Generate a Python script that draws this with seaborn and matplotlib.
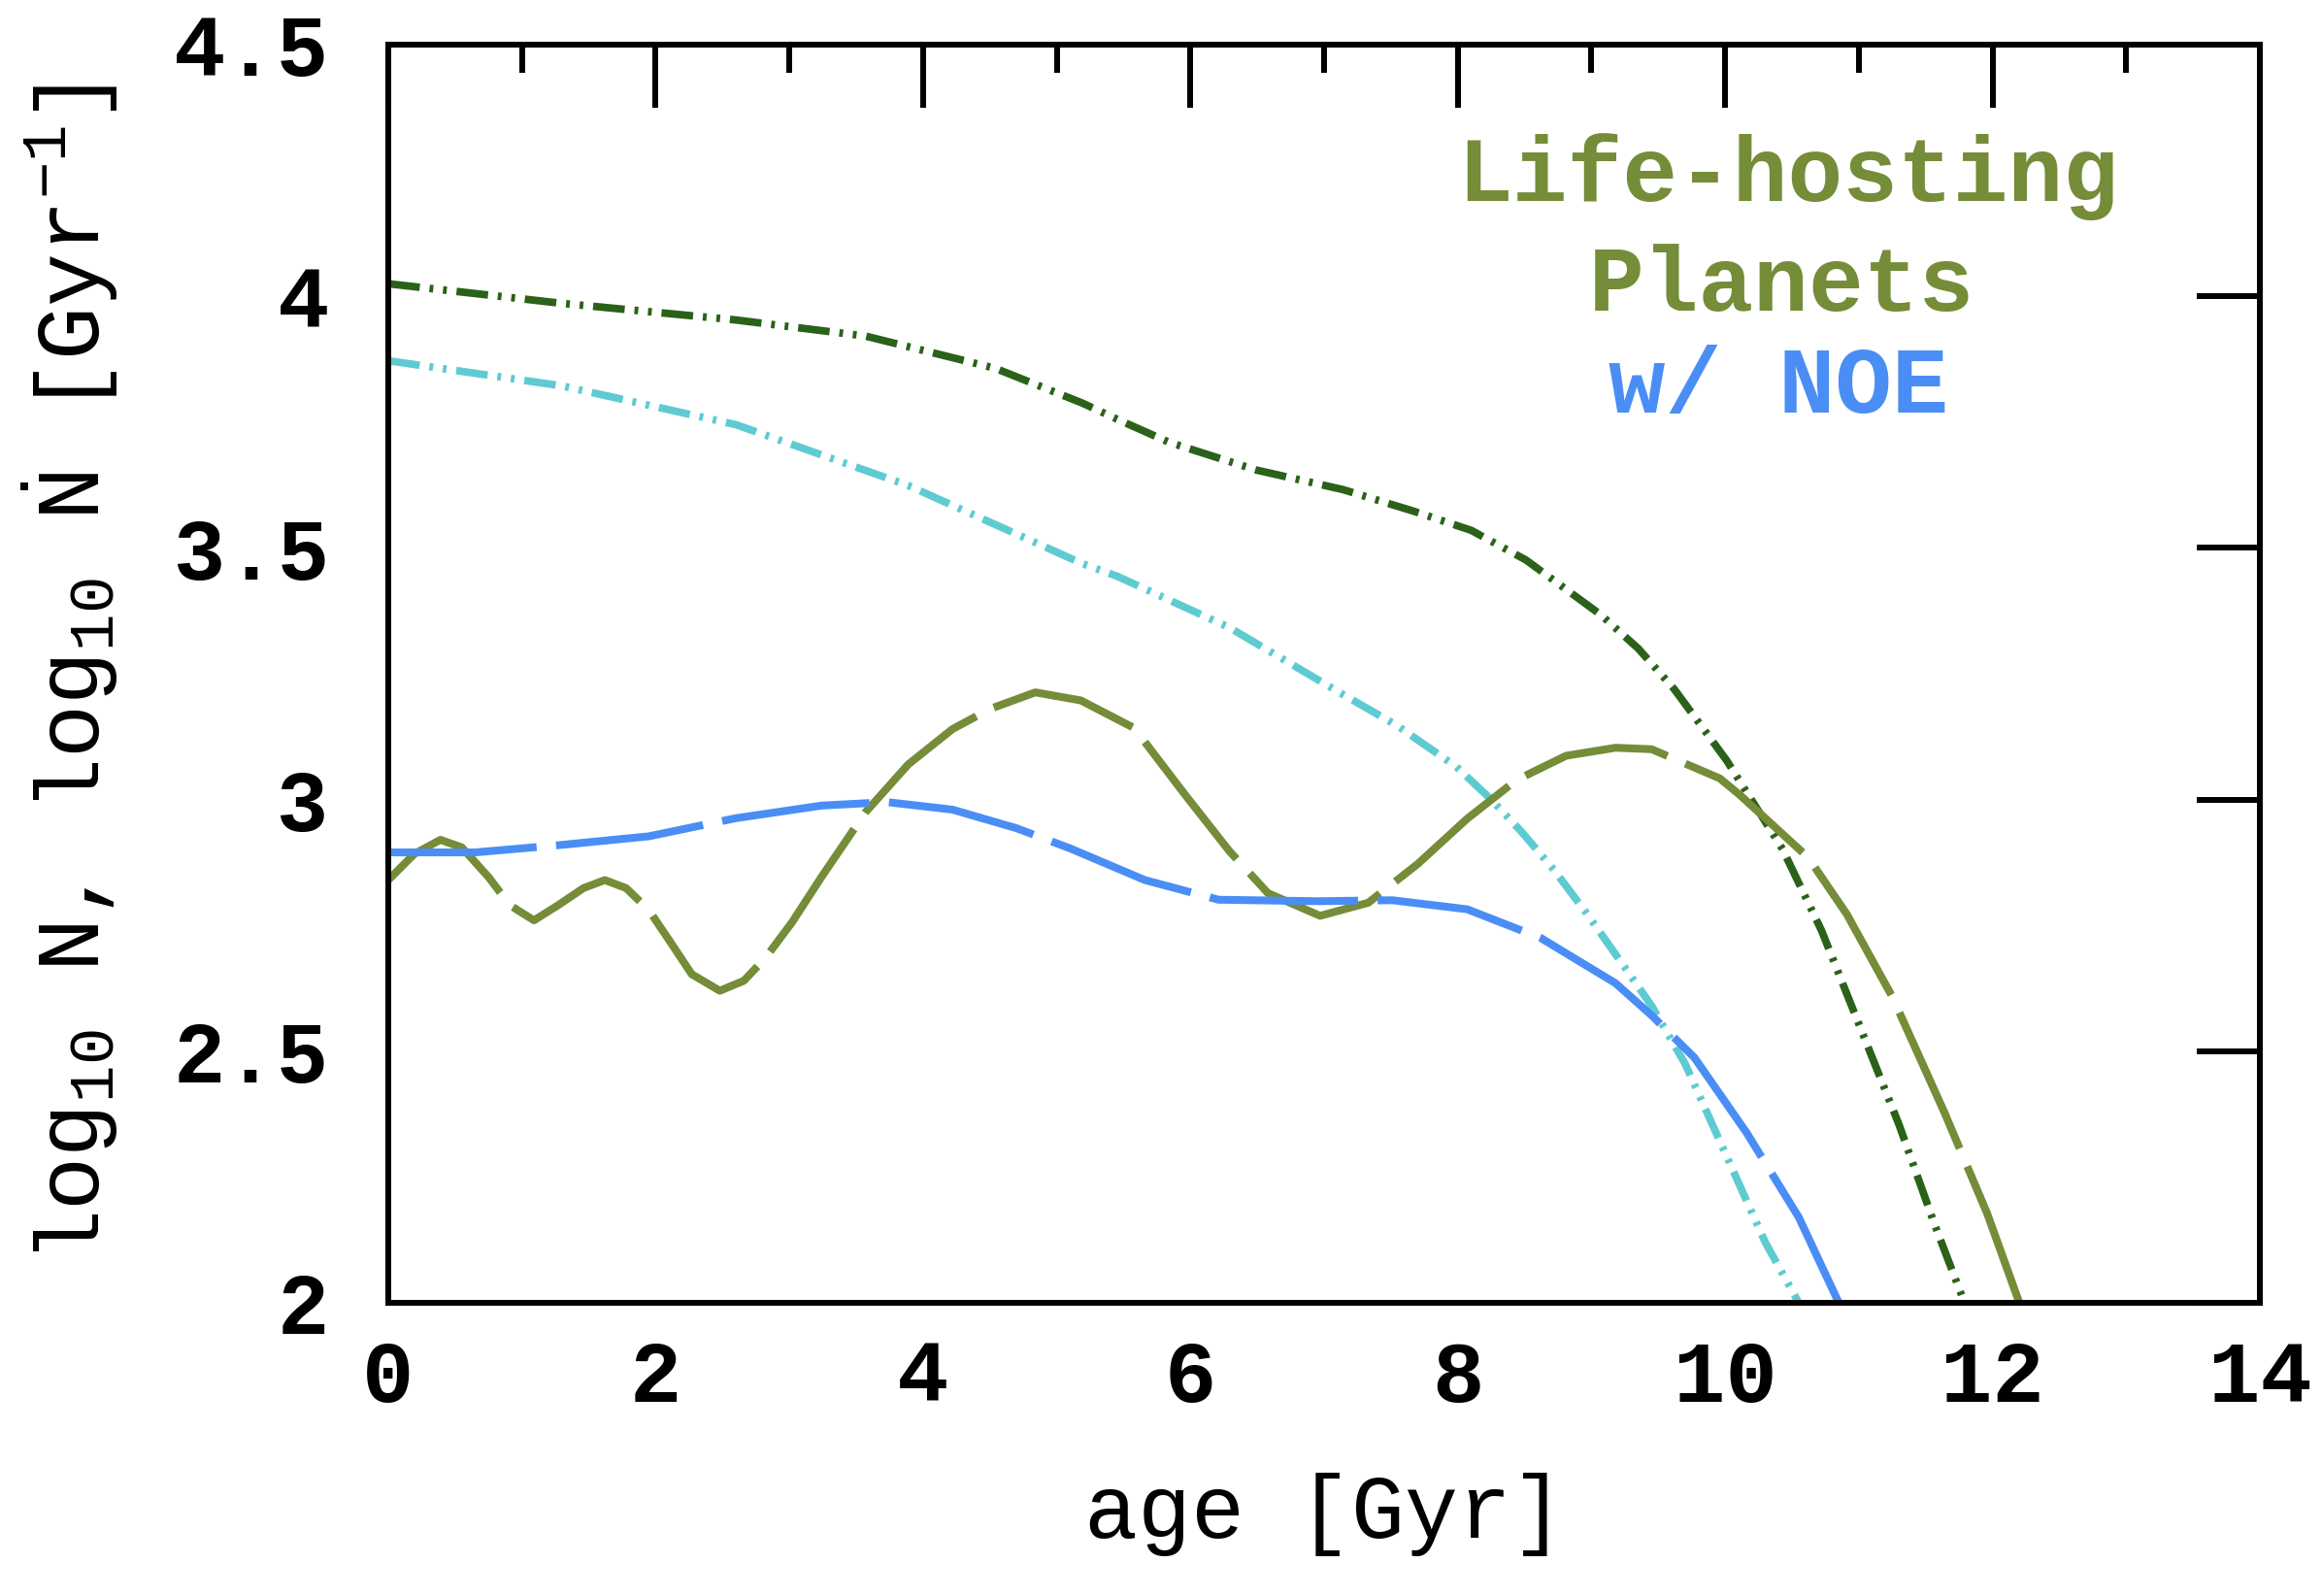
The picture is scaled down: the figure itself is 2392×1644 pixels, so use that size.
import numpy as np
import pandas as pd
import seaborn as sns
import matplotlib
matplotlib.use("Agg")
import matplotlib.pyplot as plt
from matplotlib.ticker import MultipleLocator

# life-hosting planets, cumulative (dark green, dash-dot-dot)
age_n_life = [0, 1.30, 2.60, 3.57, 4.54, 5.19, 5.45, 5.84, 6.49, 7.14, 7.67, 8.10, 8.51,
              9.07, 9.35, 9.62, 10.01, 10.43, 10.72, 11.01, 11.30, 11.57, 11.79]
n_life = [4.025, 3.986, 3.953, 3.921, 3.857, 3.788, 3.756, 3.710, 3.655, 3.616, 3.573, 3.535, 3.476,
          3.367, 3.300, 3.219, 3.078, 2.901, 2.740, 2.547, 2.354, 2.153, 2.000]

# life-hosting planets w/ NOE, cumulative (cyan, dash-dot-dot)
age_n_noe = [0, 1.30, 2.60, 3.89, 5.19, 5.45, 6.29, 7.12, 7.54, 7.99, 8.25, 8.48, 8.72,
             8.96, 9.20, 9.45, 9.70, 10.06, 10.30, 10.55]
n_noe = [3.872, 3.822, 3.745, 3.624, 3.469, 3.444, 3.342, 3.212, 3.148, 3.065, 3.000, 2.935, 2.860,
         2.775, 2.685, 2.590, 2.475, 2.262, 2.120, 2.000]

# rate, life-hosting planets (olive, long dashes)
age_rate_life = [0, 0.195, 0.39, 0.55, 0.75, 0.91, 1.09, 1.27, 1.46, 1.62, 1.78, 1.95, 2.11,
                 2.27, 2.48, 2.66, 2.82, 3.02, 3.24, 3.57, 3.89, 4.22, 4.50, 4.84, 5.18,
                 5.58, 5.95, 6.29, 6.58, 6.97, 7.33, 7.70, 8.07, 8.44, 8.81, 9.18, 9.45,
                 9.96, 10.11, 10.62, 10.91, 11.25, 11.64, 11.96, 12.20]
rate_life = [2.840, 2.892, 2.920, 2.905, 2.846, 2.790, 2.760, 2.790, 2.824, 2.840, 2.824, 2.780,
             2.717, 2.653, 2.620, 2.640, 2.685, 2.756, 2.846, 2.975, 3.070, 3.140, 3.180, 3.213,
             3.197, 3.142, 3.013, 2.898, 2.814, 2.769, 2.795, 2.872, 2.962, 3.039, 3.087, 3.103,
             3.100, 3.042, 3.009, 2.885, 2.772, 2.608, 2.378, 2.177, 2.000]

# rate, life-hosting planets w/ NOE (blue, long dashes)
age_rate_noe = [0, 0.65, 1.30, 1.95, 2.60, 3.24, 3.73, 4.22, 4.70, 5.10, 5.66, 6.21, 6.95,
                7.51, 8.07, 8.62, 9.18, 9.45, 9.77, 10.16, 10.55, 10.85]
rate_noe = [2.895, 2.895, 2.910, 2.927, 2.963, 2.988, 2.995, 2.980, 2.943, 2.903, 2.840, 2.801,
            2.798, 2.800, 2.782, 2.725, 2.635, 2.571, 2.487, 2.338, 2.170, 2.000]

c_olive = "#758c38"
c_blue = "#4a8ef5"
c_cyan = "#5ecbd2"
c_dkgreen = "#2a6219"

sns.set_theme(style="white")
plt.rcParams["font.family"] = ["Liberation Mono", "DejaVu Sans"]
plt.rcParams["mathtext.fontset"] = "custom"
plt.rcParams["mathtext.rm"] = "Liberation Mono"
plt.rcParams["mathtext.it"] = "Liberation Mono"
plt.rcParams["mathtext.bf"] = "Liberation Mono:bold"
plt.rcParams["text.color"] = "black"
plt.rcParams["axes.labelcolor"] = "black"
plt.rcParams["xtick.color"] = "black"
plt.rcParams["ytick.color"] = "black"

fig = plt.figure(figsize=(23.92, 16.44), dpi=100)
ax = fig.add_axes([0.1672, 0.1837, 0.9733 - 0.1672, 0.972 - 0.1837])

dashdotdot = (0, (4.2, 1.3, 0.5, 1.3, 0.5, 1.3))
longdash = (0, (19, 2.5))

sns.lineplot(x=age_n_life, y=n_life, ax=ax, color=c_dkgreen, lw=5.6,
             linestyle=dashdotdot, estimator=None, sort=False)
sns.lineplot(x=age_n_noe, y=n_noe, ax=ax, color=c_cyan, lw=5.6,
             linestyle=dashdotdot, estimator=None, sort=False)
sns.lineplot(x=age_rate_life, y=rate_life, ax=ax, color=c_olive, lw=5.8,
             linestyle=longdash, estimator=None, sort=False)
sns.lineplot(x=age_rate_noe, y=rate_noe, ax=ax, color=c_blue, lw=5.8,
             linestyle=longdash, estimator=None, sort=False)

ax.set_xlim(0, 14)
ax.set_ylim(2, 4.5)
ax.xaxis.set_major_locator(MultipleLocator(2))
ax.xaxis.set_minor_locator(MultipleLocator(1))
ax.set_yticks([2, 2.5, 3, 3.5, 4, 4.5])
ax.set_yticklabels(["2", "2.5", "3", "3.5", "4", "4.5"])

ax.tick_params(which="both", direction="in", top=True, right=True, color="black",
               width=4.3)
ax.tick_params(which="major", length=47)
ax.tick_params(which="minor", length=21)
ax.tick_params(axis="x", which="major", pad=27, labelsize=64)
ax.tick_params(axis="y", which="major", pad=44, labelsize=64)
for lab in ax.get_xticklabels() + ax.get_yticklabels():
    lab.set_fontweight("bold")

for sp in ax.spines.values():
    sp.set_visible(True)
    sp.set_color("black")
    sp.set_linewidth(4.3)

ax.set_xlabel("age [Gyr]", fontsize=66)
ax.xaxis.set_label_coords(0.5, -0.135)
ax.set_ylabel(r"log$_{10}$ N, log$_{10}$ $\dot{\mathrm{N}}$ [Gyr$^{-1}$]", fontsize=66)
ax.yaxis.set_label_coords(-0.143, 0.5)

ax.text(10.47, 4.189, "Life-hosting", color=c_olive, fontsize=68, fontweight="bold",
        ha="center", va="baseline")
ax.text(10.42, 3.971, "Planets", color=c_olive, fontsize=68, fontweight="bold",
        ha="center", va="baseline")
ax.text(10.40, 3.769, "w/ NOE", color=c_blue, fontsize=70, fontweight="bold",
        ha="center", va="baseline")

fig.savefig("out.png", dpi=100)
